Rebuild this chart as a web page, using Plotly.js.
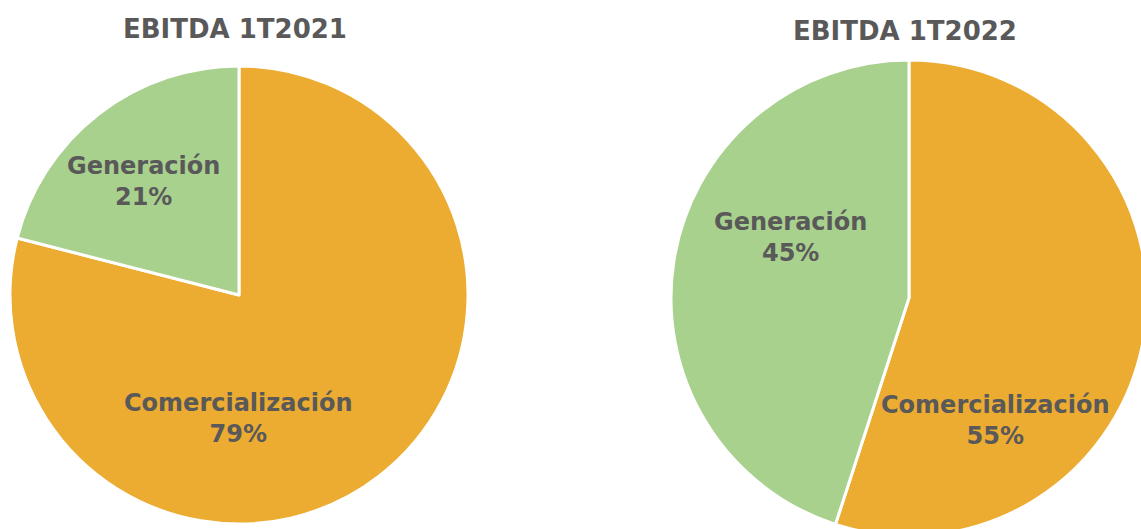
<!DOCTYPE html>
<html>
<head>
<meta charset="utf-8">
<script src="https://cdn.plot.ly/plotly-3.0.1.min.js"></script>
<style>
  html, body { margin: 0; padding: 0; overflow: hidden; background: #fff; }
  #chart { width: 1160px; height: 540px; }
</style>
</head>
<body>
<div id="chart"></div>
<script>
// segment names and shares (%) per quarter, drawn clockwise from 12 o'clock
const segments = ['Comercialización', 'Generación'];
const share_1t2021 = [79, 21];
const share_1t2022 = [55, 45];
const titles = ['EBITDA 1T2021', 'EBITDA 1T2022'];

const colors = ['#ECAB31', '#A9D18E'];
const textColor = '#595959';
const fontFam = 'DejaVu Sans, sans-serif';
const W = 1160, H = 540;

// pixel boxes -> domain fractions (plot is bigger than the window, right pie gets clipped)
function dom(x0, x1, y0, y1) {
    return { x: [x0 / W, x1 / W], y: [(H - y1) / H, (H - y0) / H] };
}

// label placement (px, like excel's best fit) for each pie, same order as segments
const labelPos = [
    [[238, 418], [143, 181]],
    [[995, 420], [790, 237]]
];

function pieTrace(values, domain) {
    return {
        type: 'pie',
        labels: segments,
        values: values,
        sort: false,
        direction: 'clockwise',
        rotation: 0,
        domain: domain,
        marker: { colors: colors, line: { color: '#ffffff', width: 3 } },
        textinfo: 'none',
        hoverinfo: 'none',
        showlegend: false
    };
}

function ann(text, px, py, size) {
    return {
        text: text, x: px / W, y: 1 - py / H, xref: 'paper', yref: 'paper',
        xanchor: 'center', yanchor: 'middle', showarrow: false,
        font: { family: fontFam, size: size, color: textColor }
    };
}

const shares = [share_1t2021, share_1t2022];
const annotations = [
    ann('<b>' + titles[0] + '</b>', 235, 29, 26),
    ann('<b>' + titles[1] + '</b>', 905, 31, 26)
];
shares.forEach((vals, p) => {
    const total = vals.reduce((a, b) => a + b, 0);
    vals.forEach((v, i) => {
        const pct = Math.round(v / total * 100) + '%';
        annotations.push(ann('<b>' + segments[i] + '<br>' + pct + '</b>', labelPos[p][i][0], labelPos[p][i][1], 24));
    });
});

const data = [
    pieTrace(share_1t2021, dom(10, 468, 66, 524)),
    pieTrace(share_1t2022, dom(671, 1147, 60, 536))
];

const layout = {
    width: W,
    height: H,
    margin: { l: 0, r: 0, t: 0, b: 0 },
    paper_bgcolor: '#ffffff',
    showlegend: false,
    annotations: annotations
};

Plotly.newPlot('chart', data, layout, { displayModeBar: false, staticPlot: true });
</script>
</body>
</html>
